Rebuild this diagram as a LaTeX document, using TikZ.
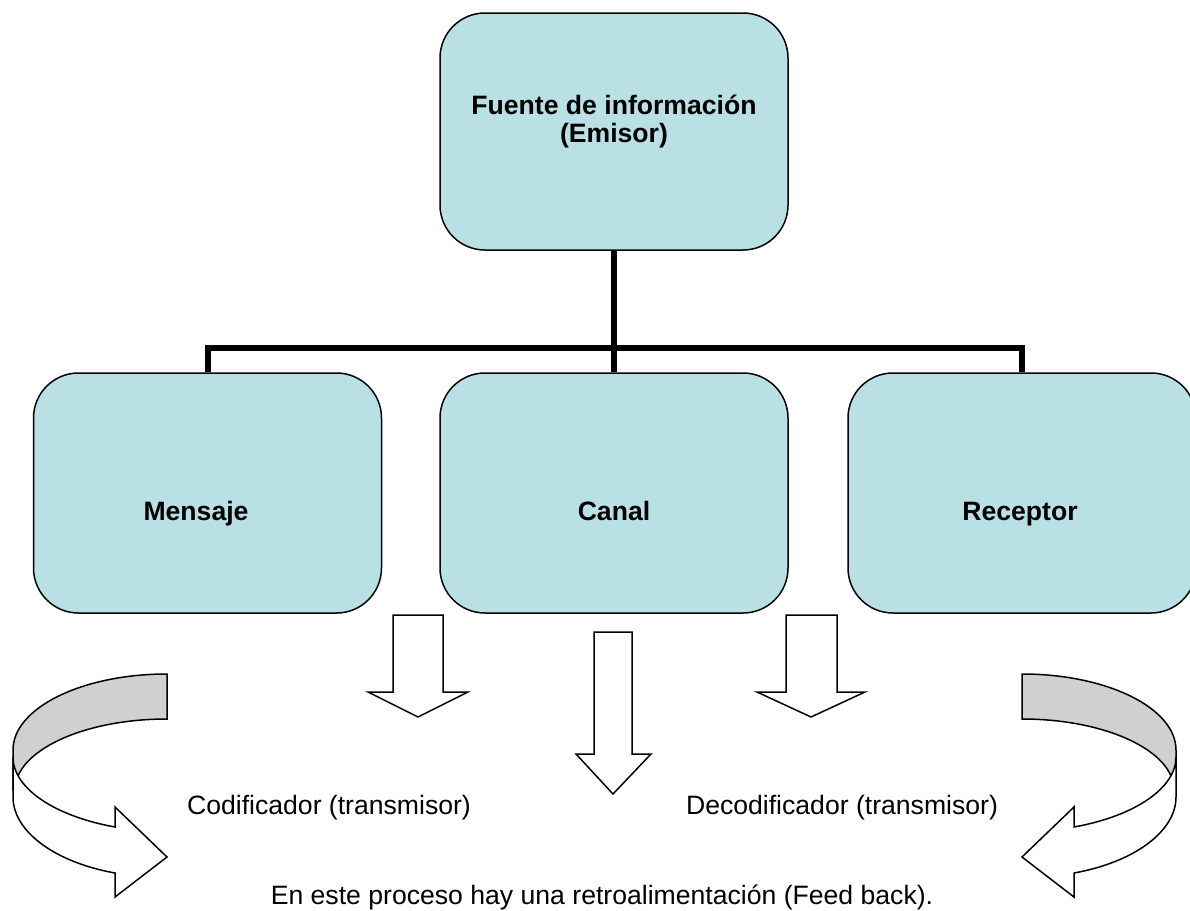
\documentclass[tikz,border=0pt]{standalone}
\usepackage{fontspec}
\setmainfont{Liberation Sans}
\definecolor{celeste}{RGB}{185,224,228}
\definecolor{gris}{RGB}{208,208,208}
\tikzset{
  caja/.style={draw, line width=0.75pt, fill=celeste, rounded corners=22.5pt,
    minimum width=174pt, minimum height=120pt, inner sep=0pt},
  etiqueta/.style={font=\fontsize{13.3}{14}\selectfont\bfseries,
    text height=0.75em, text depth=0.25em, inner sep=0pt},
  texto/.style={font=\fontsize{13.3}{14}\selectfont,
    text height=0.75em, text depth=0.25em, inner sep=0pt},
  conector/.style={line width=3pt},
  bloque/.style={draw, line width=0.75pt, fill=white, line join=miter},
  pics/vuelta/.style={code={
    \draw[bloque, fill=gris] (167,674) .. controls (82,674) and (13,708) .. (13,750)
      -- (13,790) -- (15,790) .. controls (15,751) and (83,719) .. (167,719) -- cycle;
    \draw[bloque] (13,757) .. controls (13,788) and (54,816) .. (115,827)
      -- (115,807) -- (167,857) -- (115,897) -- (115,873)
      .. controls (54,862) and (13,831) .. (13,797) -- cycle;
  }}
}
\begin{document}
\begin{tikzpicture}[x=0.5pt, y=-0.5pt]
\path[use as bounding box, clip] (0,0) rectangle (1190,911);

% cajas
\node[caja, minimum height=118.5pt] (fuente) at (614,131.5) {};
\node[caja] (mensaje) at (207.5,493) {};
\node[caja] (canal) at (614,493) {};
\node[caja] (receptor) at (1022,493) {};

\node[font=\fontsize{13.3}{14}\selectfont\bfseries, align=center, inner sep=0pt] (lfuente) at (614,122) {Fuente de información\\(Emisor)};
\node[etiqueta] (lmensaje) at (196,515) {Mensaje};
\node[etiqueta] (lcanal) at (614,515) {Canal};
\node[etiqueta] (lreceptor) at (1020,515) {Receptor};

% conectores
\coordinate (bus) at (614,348);
\draw[conector] (fuente) -- (canal);
\draw[conector] (mensaje.north) |- (bus) -| (receptor.north);

% flechas
\draw[bloque] (393,615) -- (443,615) -- (443,692) -- (468,692) -- (418,717) -- (368,692) -- (393,692) -- cycle;
\draw[bloque] (594,632) -- (632,632) -- (632,754) -- (651,754) -- (613,794) -- (576,754) -- (594,754) -- cycle;
\draw[bloque] (786,615) -- (837,615) -- (837,692) -- (865,692) -- (811,717) -- (757,692) -- (786,692) -- cycle;

\pic at (0,0) {vuelta};
\pic[xscale=-1] at (1189,0) {vuelta};

\node[texto] (codificador) at (329,809) {Codificador (transmisor)};
\node[texto] (decodificador) at (842,809) {Decodificador (transmisor)};
\node[texto] (retro) at (602,899) {En este proceso hay una retroalimentación (Feed back).};
\end{tikzpicture}
\end{document}
